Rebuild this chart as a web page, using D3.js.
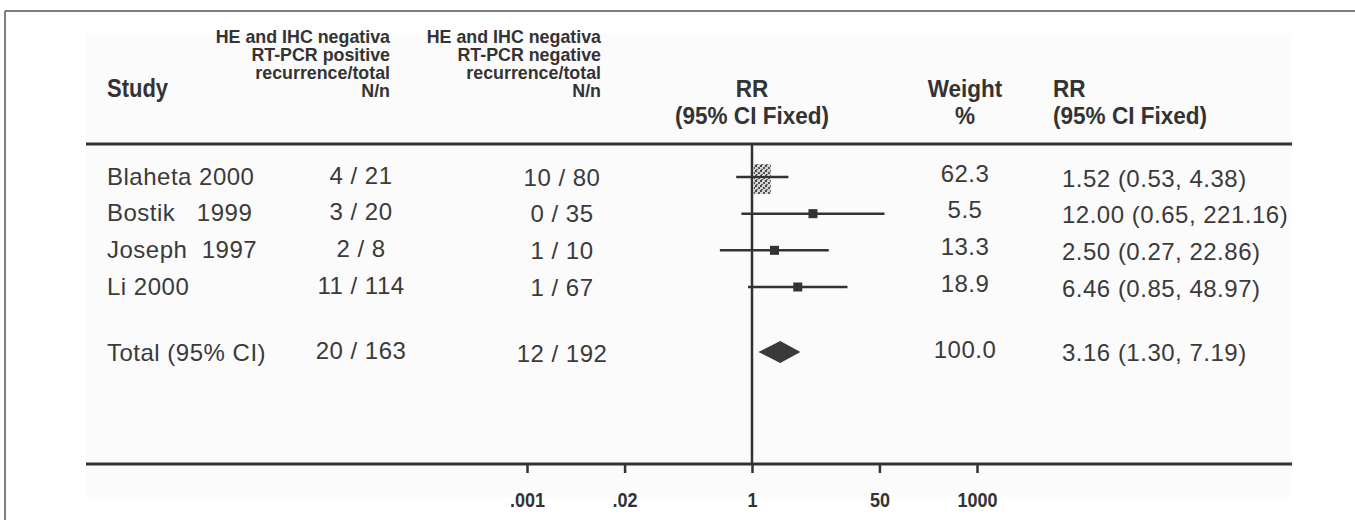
<!DOCTYPE html>
<html>
<head>
<meta charset="utf-8">
<script src="https://cdn.jsdelivr.net/npm/d3@7"></script>
<style>
  body { margin: 0; background: #fff; }
  svg text { white-space: pre; }
</style>
</head>
<body>
<div id="chart"></div>
<script>
// ---- data ----
var studies   = ["Blaheta 2000", "Bostik   1999", "Joseph  1997", "Li 2000"];
var posRec    = [4, 3, 2, 11];
var posTotal  = [21, 20, 8, 114];
var negRec    = [10, 0, 1, 1];
var negTotal  = [80, 35, 10, 67];
var weights   = [62.3, 5.5, 13.3, 18.9];
var rr        = [1.52, 12.00, 2.50, 6.46];
var rrLow     = [0.53, 0.65, 0.27, 0.85];
var rrHigh    = [4.38, 221.16, 22.86, 48.97];

var totalLabel  = "Total (95% CI)";
var totalPos    = [20, 163];
var totalNeg    = [12, 192];
var totalWeight = 100.0;
var totalRR     = [3.16, 1.30, 7.19];

var tickValues = [0.001, 0.02, 1, 50, 1000];
var tickLabels = [".001", ".02", "1", "50", "1000"];

var W = 1355, H = 520;
var ink = "#333";
var fmt2 = d3.format(".2f");

var svg = d3.select("#chart").append("svg")
  .attr("width", W).attr("height", H)
  .style("font-family", "'Liberation Sans', Arial, sans-serif");

// speckled fill for the large (badly scanned) box
var pat = svg.append("defs").append("pattern")
  .attr("id", "speck").attr("width", 5).attr("height", 5)
  .attr("patternUnits", "userSpaceOnUse");
pat.append("rect").attr("width", 5).attr("height", 5).attr("fill", "#cfcfcf");
pat.append("rect").attr("x", 0).attr("y", 0).attr("width", 2).attr("height", 2).attr("fill", "#333");
pat.append("rect").attr("x", 3).attr("y", 2).attr("width", 2).attr("height", 2).attr("fill", "#444");
pat.append("rect").attr("x", 1).attr("y", 4).attr("width", 2).attr("height", 1).attr("fill", "#555");

// frame
svg.append("line").attr("x1", 5).attr("x2", W).attr("y1", 11).attr("y2", 11)
  .attr("stroke", "#555").attr("stroke-width", 1.5);
svg.append("line").attr("x1", 5).attr("x2", 5).attr("y1", 11).attr("y2", H)
  .attr("stroke", "#555").attr("stroke-width", 1.5);

// faint panel
svg.append("rect").attr("x", 86).attr("y", 33).attr("width", 1206).attr("height", 464)
  .attr("fill", "#fbfbfb");

var left = 86, right = 1292, ruleTop = 144, ruleBottom = 464, x0 = 752;

// scales: tick axis and plotted marks (the figure's marks are drawn tighter than its ticks)
var xAxisScale = d3.scaleLog().domain([0.001, 1000]).range([x0 - 225, x0 + 225]);
var x = d3.scaleLog().domain([0.001, 1000]).range([x0 - 169.5, x0 + 169.5]);

var rowY = d3.scalePoint().domain(d3.range(studies.length)).range([176, 286]);
var totalY = 352;

function boldText(g, tx, ty, anchor, size, sx, str) {
  g.append("text")
    .attr("transform", "translate(" + tx + "," + ty + ") scale(" + sx + ",1)")
    .attr("text-anchor", anchor)
    .attr("font-weight", "bold")
    .attr("font-size", size)
    .attr("fill", ink)
    .text(str);
}

// header
var head = svg.append("g");
var col1Head = ["HE and IHC negativa", "RT-PCR positive", "recurrence/total", "N/n"];
var col2Head = ["HE and IHC negativa", "RT-PCR negative", "recurrence/total", "N/n"];
col1Head.forEach(function(s, i) { boldText(head, 390, 43 + i * 18, "end", 18, 0.99, s); });
col2Head.forEach(function(s, i) { boldText(head, 601, 43 + i * 18, "end", 18, 0.99, s); });
boldText(head, 107, 97, "start", 25, 0.88, "Study");
boldText(head, x0, 97, "middle", 24, 0.94, "RR");
boldText(head, x0, 124, "middle", 24, 0.94, "(95% CI Fixed)");
boldText(head, 965, 97, "middle", 24, 0.94, "Weight");
boldText(head, 965, 124, "middle", 24, 0.94, "%");
boldText(head, 1053, 97, "start", 24, 0.94, "RR");
boldText(head, 1053, 124, "start", 24, 0.94, "(95% CI Fixed)");

// rules
[ruleTop, ruleBottom].forEach(function(y) {
  svg.append("line").attr("x1", left).attr("x2", right).attr("y1", y).attr("y2", y)
    .attr("stroke", ink).attr("stroke-width", 3);
});

// line of no effect
svg.append("line").attr("x1", x(1)).attr("x2", x(1)).attr("y1", ruleTop).attr("y2", ruleBottom)
  .attr("stroke", ink).attr("stroke-width", 2.5);

// bottom axis
var axis = svg.append("g")
  .attr("transform", "translate(0," + ruleBottom + ")")
  .call(d3.axisBottom(xAxisScale).tickValues(tickValues)
    .tickFormat(function(d, i) { return tickLabels[i]; })
    .tickSize(9).tickPadding(20));
axis.select(".domain").remove();
axis.selectAll(".tick line").attr("stroke", ink).attr("stroke-width", 2.5);
axis.selectAll(".tick text")
  .attr("transform", "scale(0.9,1)")
  .attr("font-family", "'Liberation Sans', Arial, sans-serif")
  .attr("font-size", 20).attr("font-weight", "bold").attr("fill", ink);

// study rows
var bodySize = 24, base = 8.5;
var rows = svg.append("g").attr("fill", "#3a3a3a")
  .attr("font-size", bodySize).attr("letter-spacing", 0.5);
studies.forEach(function(s, i) {
  var y = rowY(i);
  rows.append("text").attr("x", 107).attr("y", y + base).text(s);
  rows.append("text").attr("x", 361).attr("y", y + base - 1).attr("text-anchor", "middle")
    .text(posRec[i] + " / " + posTotal[i]);
  rows.append("text").attr("x", 562).attr("y", y + base + 1).attr("text-anchor", "middle")
    .text(negRec[i] + " / " + negTotal[i]);
  rows.append("text").attr("x", 965).attr("y", y + base - 3).attr("text-anchor", "middle")
    .text(weights[i].toFixed(1));
  rows.append("text").attr("x", 1062).attr("y", y + base + 2)
    .text(fmt2(rr[i]) + " (" + fmt2(rrLow[i]) + ", " + fmt2(rrHigh[i]) + ")");
});

// total row
rows.append("text").attr("x", 107).attr("y", totalY + base).text(totalLabel);
rows.append("text").attr("x", 361).attr("y", totalY + base - 2).attr("text-anchor", "middle")
  .text(totalPos[0] + " / " + totalPos[1]);
rows.append("text").attr("x", 562).attr("y", totalY + base + 1).attr("text-anchor", "middle")
  .text(totalNeg[0] + " / " + totalNeg[1]);
rows.append("text").attr("x", 965).attr("y", totalY + base - 3).attr("text-anchor", "middle")
  .text(totalWeight.toFixed(1));
rows.append("text").attr("x", 1062).attr("y", totalY + base)
  .text(fmt2(totalRR[0]) + " (" + fmt2(totalRR[1]) + ", " + fmt2(totalRR[2]) + ")");

// CI lines and boxes
var marks = svg.append("g");
studies.forEach(function(s, i) {
  var y = rowY(i) + 1;
  marks.append("line")
    .attr("x1", x(rrLow[i])).attr("x2", x(rrHigh[i]))
    .attr("y1", y).attr("y2", y)
    .attr("stroke", ink).attr("stroke-width", 2.5);
  if (weights[i] > 50) {
    marks.append("rect")
      .attr("x", x(rr[i]) - 8.5).attr("y", y - 13)
      .attr("width", 17).attr("height", 30)
      .attr("fill", "url(#speck)").attr("opacity", 0.9);
    marks.append("line")
      .attr("x1", x(rrLow[i])).attr("x2", x(rrHigh[i]))
      .attr("y1", y).attr("y2", y)
      .attr("stroke", ink).attr("stroke-width", 2);
  } else {
    marks.append("rect")
      .attr("x", x(rr[i]) - 4.5).attr("y", y - 4.5)
      .attr("width", 9).attr("height", 9)
      .attr("fill", ink);
  }
});

// pooled diamond
marks.append("path")
  .attr("d", "M" + x(totalRR[1]) + "," + totalY +
             "L" + x(totalRR[0]) + "," + (totalY - 11) +
             "L" + x(totalRR[2]) + "," + totalY +
             "L" + x(totalRR[0]) + "," + (totalY + 11) + "Z")
  .attr("fill", "#3a3a3a");
</script>
</body>
</html>
